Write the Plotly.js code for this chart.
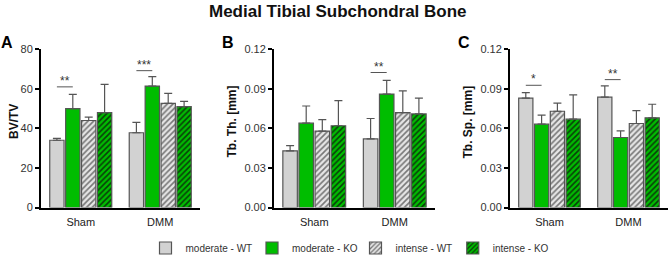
<!DOCTYPE html>
<html>
<head>
<meta charset="utf-8">
<script src="https://cdn.plot.ly/plotly-3.0.1.min.js"></script>
<style>html,body{margin:0;padding:0;background:#fff;}#chart{width:669px;height:256px;}</style>
</head>
<body>
<div id="chart"></div>
<script>
// ---- data ----
const groups = ['Sham', 'DMM'];
const seriesNames = ['moderate - WT', 'moderate - KO', 'intense - WT', 'intense - KO'];

const bvtvMean = [[34.0, 37.8], [50.0, 61.4], [44.0, 52.7], [48.0, 51.0]];
const bvtvErr  = [[1.0, 5.2], [7.2, 4.8], [1.7, 5.0], [14.3, 2.7]];

const tbthMean = [[0.043, 0.052], [0.064, 0.086], [0.058, 0.072], [0.062, 0.071]];
const tbthErr  = [[0.004, 0.0155], [0.013, 0.0104], [0.0086, 0.0165], [0.019, 0.012]];

const tbspMean = [[0.083, 0.0837], [0.0632, 0.0531], [0.073, 0.0637], [0.067, 0.068]];
const tbspErr  = [[0.0042, 0.0085], [0.0068, 0.005], [0.0061, 0.0098], [0.0184, 0.0103]];

// significance: [groupIndex, yLevel, label]
const sigA = [[0, 61.0, '**'], [1, 69.2, '***']];
const sigB = [[1, 0.1024, '**']];
const sigC = [[0, 0.0927, '*'], [1, 0.097, '**']];

const yTitles = ['BV/TV', 'Tb. Th. [mm]', 'Tb. Sp. [mm]'];
const panelLetters = ['A', 'B', 'C'];

// ---- styles ----
const GREY = '#d2d2d2';
const GREEN = '#00bd00';
const EDGE = '#555555';
const styles = [
  {color: GREY},
  {color: GREEN},
  {color: '#e6e6e6', pattern: {shape: '/', fillmode: 'replace', bgcolor: '#e6e6e6', fgcolor: '#777777', size: 4, solidity: 0.4}},
  {color: GREEN, pattern: {shape: '/', fillmode: 'replace', bgcolor: GREEN, fgcolor: '#0a3d0a', size: 4, solidity: 0.4}}
];

const W = 669, H = 256;
const plotTop = 49.3, plotBot = 207.5;
const xDom = [[41, 200], [274, 435], [510, 668]];
const yRanges = [[0, 80], [0, 0.12], [0, 0.12]];
const dticks = [20, 0.03, 0.03];
const fmts = ['d', '.2f', '.2f'];
const means = [bvtvMean, tbthMean, tbspMean];
const errs = [bvtvErr, tbthErr, tbspErr];
const sigs = [sigA, sigB, sigC];
const yTitleX = [14, 231.5, 467.5];
const letterX = [7, 228, 464];
const legendX = [145.5, 252, 355.5, 452.75];
const legendY = 248;

const BARGAP = 0.2, GROUPGAP = 0.1;
const slot = (1 - BARGAP) / seriesNames.length;
function barCenter(g, i) { return g - (1 - BARGAP) / 2 + slot * (i + 0.5); }

const FONT = 'Liberation Sans, Arial, sans-serif';
const traces = [];
const layout = {
  width: W, height: H,
  margin: {l: 0, r: 0, t: 0, b: 0, autoexpand: false},
  paper_bgcolor: '#fff', plot_bgcolor: '#fff',
  barmode: 'group', bargap: BARGAP, bargroupgap: GROUPGAP,
  font: {family: FONT, size: 11, color: '#222'},
  showlegend: true,
  shapes: [], annotations: []
};
const legendIds = ['legend', 'legend2', 'legend3', 'legend4'];
legendIds.forEach((id, i) => {
  layout[id] = {orientation: 'h', xref: 'container', yref: 'container', x: legendX[i] / W, xanchor: 'left',
    y: 1 - legendY / H, yanchor: 'middle', bgcolor: 'rgba(0,0,0,0)',
    font: {size: 10, color: '#333'}, itemwidth: 30};
});

layout.annotations.push({text: '<b>Medial Tibial Subchondral Bone</b>', xref: 'paper', yref: 'paper',
  x: 337.5 / W, y: 1 - 11 / H, xanchor: 'center', yanchor: 'middle', showarrow: false,
  font: {size: 17, color: '#111', family: FONT}});

for (let p = 0; p < 3; p++) {
  const xa = p === 0 ? 'x' : 'x' + (p + 1);
  const ya = p === 0 ? 'y' : 'y' + (p + 1);
  const xk = p === 0 ? 'xaxis' : 'xaxis' + (p + 1);
  const yk = p === 0 ? 'yaxis' : 'yaxis' + (p + 1);
  for (let i = 0; i < seriesNames.length; i++) {
    const m = {color: styles[i].color, line: {color: EDGE, width: 1.2}};
    if (styles[i].pattern) m.pattern = styles[i].pattern;
    traces.push({
      type: 'bar', name: seriesNames[i], x: [0, 1], y: means[p][i],
      xaxis: xa, yaxis: ya, marker: m, legend: legendIds[i], showlegend: p === 0,
      error_y: {type: 'data', symmetric: false, array: errs[p][i], arrayminus: [0, 0],
                color: EDGE, thickness: 1.2, width: 4},
      hoverinfo: 'skip'
    });
  }
  layout[xk] = {
    domain: [xDom[p][0] / W, xDom[p][1] / W], anchor: ya,
    range: [-0.5, 1.5], tickmode: 'array', tickvals: [0, 1], ticktext: groups,
    showline: true, linecolor: '#000', linewidth: 2, ticks: '', showgrid: false, zeroline: false,
    ticklabelstandoff: 3, automargin: false,
    tickfont: {size: 11, color: '#222'}, fixedrange: true
  };
  layout[yk] = {
    domain: [1 - plotBot / H, 1 - plotTop / H], anchor: xa,
    range: yRanges[p], dtick: dticks[p], tickformat: fmts[p],
    showline: true, linecolor: '#000', linewidth: 2, ticks: 'outside', ticklen: 4, tickwidth: 2, tickcolor: '#000',
    showgrid: false, zeroline: false, tickfont: {size: 11, color: '#333'}, fixedrange: true, automargin: false
  };
  // y title
  layout.annotations.push({text: '<b>' + yTitles[p] + '</b>', xref: 'paper', yref: 'paper',
    x: yTitleX[p] / W, y: 1 - 122 / H, textangle: -90, xanchor: 'center', yanchor: 'middle',
    showarrow: false, font: {size: 12, color: '#111'}});
  // panel letter
  layout.annotations.push({text: '<b>' + panelLetters[p] + '</b>', xref: 'paper', yref: 'paper',
    x: letterX[p] / W, y: 1 - 42 / H, xanchor: 'center', yanchor: 'middle',
    showarrow: false, font: {size: 16, color: '#000'}});
  // significance
  sigs[p].forEach(s => {
    const x0 = barCenter(s[0], 0), x1 = barCenter(s[0], 1);
    layout.shapes.push({type: 'line', xref: xa, yref: ya, x0: x0, x1: x1, y0: s[1], y1: s[1],
      line: {color: EDGE, width: 1}});
    layout.annotations.push({text: s[2], xref: xa, yref: ya, x: (x0 + x1) / 2, y: s[1],
      xanchor: 'center', yanchor: 'bottom', yshift: -3, showarrow: false,
      font: {size: 12, color: '#333'}});
  });
}

Plotly.newPlot('chart', traces, layout, {staticPlot: true, displayModeBar: false});
</script>
</body>
</html>
